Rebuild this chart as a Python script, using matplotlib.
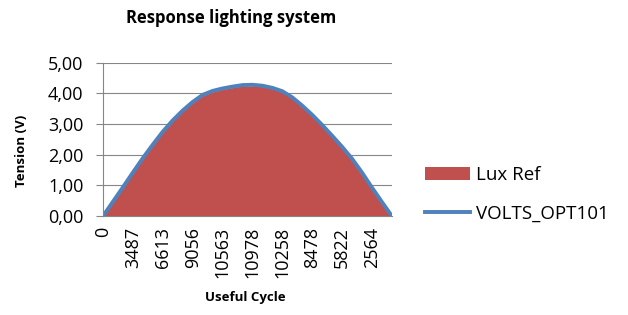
import matplotlib
matplotlib.use("Agg")
import matplotlib.pyplot as plt
from matplotlib.patches import Patch
from matplotlib.lines import Line2D

# Category labels (lux values) along the useful cycle
lux_labels = [0, 1190, 2362, 3487, 4614, 5665, 6613, 7557, 8377, 9056,
              9712, 10213, 10563, 10852, 10983, 10978, 10858, 10604, 10258, 9731,
              9119, 8478, 7585, 6681, 5822, 4649, 3544, 2564, 1226, 0]

# Series values (V)
volts_opt101 = [0.00, 0.47, 0.94, 1.42, 1.89, 2.33, 2.75, 3.12, 3.44, 3.72,
                3.95, 4.08, 4.16, 4.22, 4.27, 4.28, 4.25, 4.18, 4.07, 3.87,
                3.60, 3.30, 2.97, 2.62, 2.26, 1.87, 1.42, 0.93, 0.46, 0.00]
lux_ref = [0.00, 0.44, 0.91, 1.39, 1.86, 2.30, 2.72, 3.09, 3.41, 3.69,
           3.92, 4.05, 4.13, 4.19, 4.24, 4.25, 4.22, 4.15, 4.04, 3.84,
           3.57, 3.27, 2.94, 2.59, 2.23, 1.84, 1.39, 0.90, 0.43, 0.00]

label_step = 3

plt.rcParams['font.family'] = ['Open Sans', 'DejaVu Sans']

fig = plt.figure(figsize=(6.28, 3.15), dpi=100)
ax = fig.add_axes([0.164, 0.314, 0.46, 0.487])

x = list(range(len(volts_opt101)))
ax.fill_between(x, lux_ref, 0, color='#C0504D', linewidth=0)
ax.plot(x, volts_opt101, color='#4F81BD', linewidth=2.8, solid_capstyle='butt')

ax.set_xlim(0, len(x) - 1)
ax.set_ylim(0, 5)
ax.set_yticks([0, 1, 2, 3, 4, 5])
ax.set_yticklabels([f"{v:.2f}".replace('.', ',') for v in range(6)], fontsize=13)
ticks = x[::label_step]
ax.set_xticks(ticks)
ax.set_xticklabels([str(lux_labels[i]) for i in ticks], rotation=90, fontsize=13)
ax.tick_params(axis='y', length=5, color='#868686', pad=9)
ax.tick_params(axis='x', length=0, pad=8)

ax.grid(axis='y', color='#868686', linewidth=0.8)
ax.set_axisbelow(True)
for s in ['top', 'right']:
    ax.spines[s].set_visible(False)
for s in ['left', 'bottom']:
    ax.spines[s].set_color('#868686')
    ax.spines[s].set_linewidth(0.8)

fig.text(0.035, 0.52, 'Tension (V)', fontsize=9.5, fontweight='bold',
         rotation=90, ha='center', va='center')
fig.text(0.39, 0.054, 'Useful Cycle', fontsize=9.5, fontweight='bold',
         ha='center', va='center')
fig.text(0.368, 0.943, 'Response lighting system', fontsize=12, fontweight='bold',
         ha='center', va='center')

handles = [Patch(facecolor='#C0504D', edgecolor='none'),
           Line2D([0], [0], color='#4F81BD', linewidth=2.8)]
fig.legend(handles, ['Lux Ref', 'VOLTS_OPT101'], loc='center left',
           bbox_to_anchor=(0.677, 0.383), frameon=False, fontsize=13.5,
           borderaxespad=0, borderpad=0,
           handlelength=2.4, handletextpad=0.3, labelspacing=1.1)

fig.savefig('out.png', dpi=100, facecolor='white')
